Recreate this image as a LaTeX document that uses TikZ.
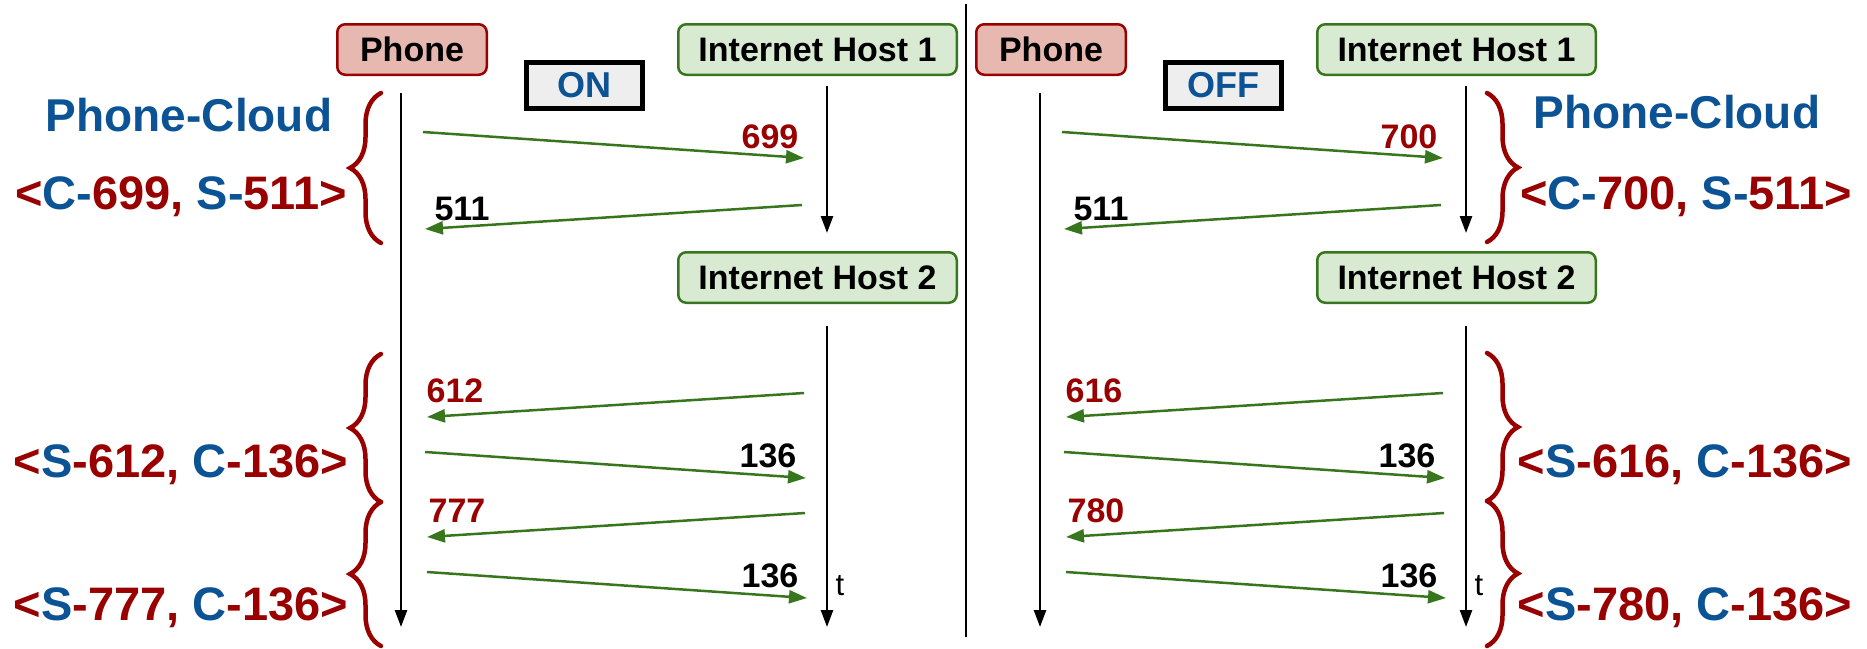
\documentclass[tikz,border=0pt]{standalone}
\usepackage{fontspec}
\setmainfont{Liberation Sans}
\usetikzlibrary{arrows.meta,decorations.pathreplacing}

\definecolor{cblue}{HTML}{0B5394}
\definecolor{cred}{HTML}{990000}
\definecolor{cgreen}{HTML}{38761D}
\definecolor{phonefill}{HTML}{E6B8AF}
\definecolor{hostfill}{HTML}{D9EAD3}
\definecolor{togglefill}{HTML}{EEEEEE}

\tikzset{
  boxfont/.style={font=\fontsize{34pt}{40pt}\selectfont\bfseries},
  phonebox/.style={boxfont, draw=cred, fill=phonefill, line width=2.5pt,
    rounded corners=8pt, minimum width=149.5pt, minimum height=50.5pt, inner sep=0pt},
  hostbox/.style={boxfont, draw=cgreen, fill=hostfill, line width=2.5pt,
    rounded corners=8pt, minimum width=278.5pt, minimum height=50.5pt, inner sep=0pt},
  togglebox/.style={font=\fontsize{36pt}{42pt}\selectfont\bfseries, text=cblue,
    draw=black, fill=togglefill, line width=5pt, minimum width=116pt,
    minimum height=46pt, inner sep=0pt},
  lifeline/.style={draw=black, line width=2.5pt, -{Triangle[length=17pt,width=12pt]}},
  msg/.style={draw=cgreen, line width=2.5pt, -{Triangle[length=18pt,width=13pt]}},
  msglabel/.style={boxfont, anchor=base, inner sep=0pt},
  timelabel/.style={font=\fontsize{31pt}{36pt}\selectfont, anchor=base, inner sep=0pt},
  sidebrace/.style={draw=cred, line width=4.5pt, line cap=round, decorate,
    decoration={brace, amplitude=31pt}},
  sidelabel/.style={font=\fontsize{47pt}{56pt}\selectfont\bfseries, text=cred,
    anchor=base, inner sep=0pt},
  titlelabel/.style={font=\fontsize{46pt}{54pt}\selectfont\bfseries, text=cblue,
    anchor=base, inner sep=0pt},
}

\begin{document}
\begin{tikzpicture}[x=1pt, y=-1pt]
\useasboundingbox (0,0) rectangle (1867,648);

% divider between the two scenarios
\coordinate (sept) at (966,4);
\coordinate (sepb) at (966,637);
\draw[line width=2pt] (sept) -- (sepb);

% ---------------- left scenario: ON ----------------
\node[phonebox] (lphone) at (412,49.5) {Phone};
\node[togglebox] (lon) at (584.5,85.5) {ON};
\node[hostbox] (lhostA) at (817.5,49.5) {Internet Host 1};
\node[hostbox] (lhostB) at (817.5,277.5) {Internet Host 2};

\coordinate (lpt) at (401,93);   \coordinate (lpb) at (401,627);
\coordinate (lat) at (827,86);   \coordinate (lab) at (827,233);
\coordinate (lbt) at (827,326);  \coordinate (lbb) at (827,627);
\draw[lifeline] (lpt) -- (lpb);
\draw[lifeline] (lat) -- (lab);
\draw[lifeline] (lbt) -- (lbb);

\coordinate (lm1s) at (423,132); \coordinate (lm1e) at (804,158);
\coordinate (lm2s) at (802,205); \coordinate (lm2e) at (425,229);
\coordinate (lm3s) at (804,393); \coordinate (lm3e) at (427,417);
\coordinate (lm4s) at (425,452); \coordinate (lm4e) at (806,478);
\coordinate (lm5s) at (805,513); \coordinate (lm5e) at (427,537);
\coordinate (lm6s) at (427,572); \coordinate (lm6e) at (807,598);
\draw[msg] (lm1s) -- (lm1e);
\draw[msg] (lm2s) -- (lm2e);
\draw[msg] (lm3s) -- (lm3e);
\draw[msg] (lm4s) -- (lm4e);
\draw[msg] (lm5s) -- (lm5e);
\draw[msg] (lm6s) -- (lm6e);

\node[msglabel, text=cred] (ll1) at (770,148) {699};
\node[msglabel] (ll2) at (462,220) {511};
\node[msglabel, text=cred] (ll3) at (455,402) {612};
\node[msglabel] (ll4) at (768,467) {136};
\node[msglabel, text=cred] (ll5) at (457,522) {777};
\node[msglabel] (ll6) at (770,587) {136};
\node[timelabel] (lt) at (840,595) {t};

\coordinate (lb1a) at (381,243); \coordinate (lb1b) at (381,93);
\coordinate (lb2a) at (381,502); \coordinate (lb2b) at (381,354);
\coordinate (lb3a) at (381,646); \coordinate (lb3b) at (381,502);
\draw[sidebrace] (lb1a) -- (lb1b);
\draw[sidebrace] (lb2a) -- (lb2b);
\draw[sidebrace] (lb3a) -- (lb3b);

\node[titlelabel] (lpc) at (189,131) {Phone-Cloud};
\node[sidelabel] (ls1) at (181,209) {<\textcolor{cblue}{C-}699, \textcolor{cblue}{S-}511>};
\node[sidelabel] (ls2) at (181,477) {<\textcolor{cblue}{S}-612, \textcolor{cblue}{C}-136>};
\node[sidelabel] (ls3) at (181,620) {<\textcolor{cblue}{S}-777, \textcolor{cblue}{C}-136>};

% ---------------- right scenario: OFF ----------------
\node[phonebox] (rphone) at (1051,49.5) {Phone};
\node[togglebox] (roff) at (1223.5,85.5) {OFF};
\node[hostbox] (rhostA) at (1456.5,49.5) {Internet Host 1};
\node[hostbox] (rhostB) at (1456.5,277.5) {Internet Host 2};

\coordinate (rpt) at (1040,93);   \coordinate (rpb) at (1040,627);
\coordinate (rat) at (1466,86);   \coordinate (rab) at (1466,233);
\coordinate (rbt) at (1466,326);  \coordinate (rbb) at (1466,627);
\draw[lifeline] (rpt) -- (rpb);
\draw[lifeline] (rat) -- (rab);
\draw[lifeline] (rbt) -- (rbb);

\coordinate (rm1s) at (1062,132); \coordinate (rm1e) at (1443,158);
\coordinate (rm2s) at (1441,205); \coordinate (rm2e) at (1064,229);
\coordinate (rm3s) at (1443,393); \coordinate (rm3e) at (1066,417);
\coordinate (rm4s) at (1064,452); \coordinate (rm4e) at (1445,478);
\coordinate (rm5s) at (1444,513); \coordinate (rm5e) at (1066,537);
\coordinate (rm6s) at (1066,572); \coordinate (rm6e) at (1446,598);
\draw[msg] (rm1s) -- (rm1e);
\draw[msg] (rm2s) -- (rm2e);
\draw[msg] (rm3s) -- (rm3e);
\draw[msg] (rm4s) -- (rm4e);
\draw[msg] (rm5s) -- (rm5e);
\draw[msg] (rm6s) -- (rm6e);

\node[msglabel, text=cred] (rl1) at (1409,148) {700};
\node[msglabel] (rl2) at (1101,220) {511};
\node[msglabel, text=cred] (rl3) at (1094,402) {616};
\node[msglabel] (rl4) at (1407,467) {136};
\node[msglabel, text=cred] (rl5) at (1096,522) {780};
\node[msglabel] (rl6) at (1409,587) {136};
\node[timelabel] (rt) at (1479,595) {t};

\coordinate (rb1a) at (1487,93);  \coordinate (rb1b) at (1487,242);
\coordinate (rb2a) at (1487,353); \coordinate (rb2b) at (1487,501);
\coordinate (rb3a) at (1487,501); \coordinate (rb3b) at (1487,646);
\draw[sidebrace] (rb1a) -- (rb1b);
\draw[sidebrace] (rb2a) -- (rb2b);
\draw[sidebrace] (rb3a) -- (rb3b);

\node[titlelabel] (rpc) at (1677,128) {Phone-Cloud};
\node[sidelabel] (rs1) at (1686,209) {<\textcolor{cblue}{C-}700, \textcolor{cblue}{S-}511>};
\node[sidelabel] (rs2) at (1685,477) {<\textcolor{cblue}{S}-616, \textcolor{cblue}{C}-136>};
\node[sidelabel] (rs3) at (1685,620) {<\textcolor{cblue}{S}-780, \textcolor{cblue}{C}-136>};
\end{tikzpicture}
\end{document}
